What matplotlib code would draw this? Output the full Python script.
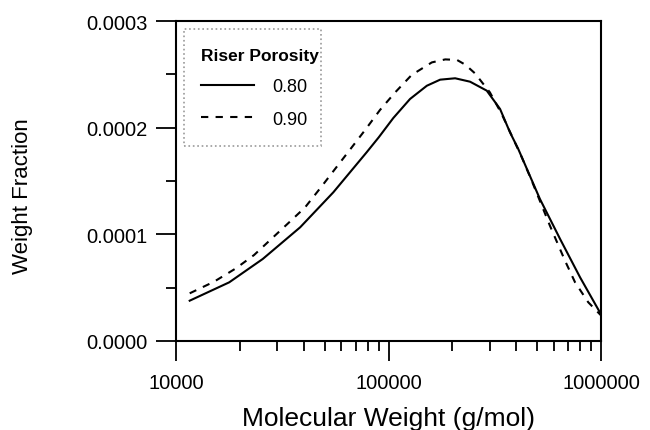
import matplotlib
matplotlib.use("Agg")
import matplotlib.pyplot as plt
from matplotlib.patches import Rectangle
from matplotlib.ticker import FixedLocator, FixedFormatter, LogLocator, NullFormatter

plt.rcParams['font.family'] = ['Liberation Sans', 'DejaVu Sans']

# Data
mw_080 = [11600, 17800, 25600, 38400, 55000, 78900, 90000, 105300, 126300, 151500,
          175000, 205900, 242000, 290000, 335000, 373000, 408000, 516000, 642000,
          797000, 1000000]
wf_080 = [3.78e-5, 5.5e-5, 7.69e-5, 1.066e-4, 1.394e-4, 1.769e-4, 1.91e-4, 2.09e-4,
          2.269e-4, 2.393e-4, 2.45e-4, 2.463e-4, 2.431e-4, 2.347e-4, 2.175e-4, 1.956e-4,
          1.80e-4, 1.331e-4, 9.56e-5, 5.97e-5, 2.5e-5]

mw_090 = [11600, 15100, 19100, 23300, 34100, 40500, 48100, 56000, 65300, 77400, 91200,
          107500, 128500, 160000, 185000, 210000, 230000, 255000, 300000, 341000, 424000,
          472000, 575000, 677000, 755000, 871000, 1000000]
wf_090 = [4.47e-5, 5.56e-5, 6.8e-5, 8.06e-5, 1.113e-4, 1.253e-4, 1.441e-4, 1.612e-4,
          1.784e-4, 1.975e-4, 2.166e-4, 2.331e-4, 2.494e-4, 2.612e-4, 2.64e-4, 2.635e-4,
          2.59e-4, 2.51e-4, 2.331e-4, 2.128e-4, 1.722e-4, 1.503e-4, 1.081e-4, 7.53e-5,
          5.5e-5, 3.63e-5, 2.4e-5]

labels = ["0.80", "0.90"]
legend_title = "Riser Porosity"
yticks = [0.0, 0.0001, 0.0002, 0.0003]
ytick_labels = ["0.0000", "0.0001", "0.0002", "0.0003"]
xticks = [1e4, 1e5, 1e6]
xtick_labels = ["10000", "100000", "1000000"]

fig = plt.figure(figsize=(6.5, 4.31), dpi=100)
ax = fig.add_axes([176/650, 89/431, 425/650, 320/431])

ax.plot(mw_080, wf_080, color='black', lw=1.5, linestyle='-', label=labels[0])
ax.plot(mw_090, wf_090, color='black', lw=1.5, linestyle=(0, (3.5, 3.5)), label=labels[1])

ax.set_xscale('log')
ax.set_xlim(1e4, 1e6)
ax.set_ylim(0, 0.0003)

ax.xaxis.set_major_locator(FixedLocator(xticks))
ax.xaxis.set_major_formatter(FixedFormatter(xtick_labels))
ax.xaxis.set_minor_locator(LogLocator(base=10, subs=range(2, 10)))
ax.xaxis.set_minor_formatter(NullFormatter())

ax.yaxis.set_major_locator(FixedLocator(yticks))
ax.yaxis.set_major_formatter(FixedFormatter(ytick_labels))
ax.yaxis.set_minor_locator(FixedLocator([0.00005, 0.00015, 0.00025]))

ax.tick_params(which='major', direction='out', length=14.5, width=1.3, labelsize=14.5, pad=6)
ax.tick_params(axis='x', which='major', pad=8.5)
ax.tick_params(which='minor', direction='out', length=7, width=1.3)

for s in ax.spines.values():
    s.set_linewidth(1.5)

ax.set_xlabel("Molecular Weight (g/mol)", fontsize=19, labelpad=10)
ax.set_ylabel("Weight Fraction", fontsize=16)
ax.yaxis.set_label_coords((33 - 176) / 425, (342 - 196) / 320)

leg = ax.legend(title=legend_title, loc='upper left', bbox_to_anchor=(0.0, 0.995),
                fontsize=13, title_fontproperties={'weight': 'bold', 'size': 12.5},
                handlelength=2.9, handletextpad=1.05, labelspacing=0.85,
                borderpad=0.9, frameon=False, alignment='left')

# legend frame drawn as a dotted grey box
frame = Rectangle((8/425, (342-147)/320), (321-184)/425, (147-30)/320,
                  transform=ax.transAxes, fill=False, edgecolor='#999999',
                  linestyle=':', linewidth=1.2, zorder=5)
ax.add_patch(frame)

fig.savefig("out.png", dpi=100)
